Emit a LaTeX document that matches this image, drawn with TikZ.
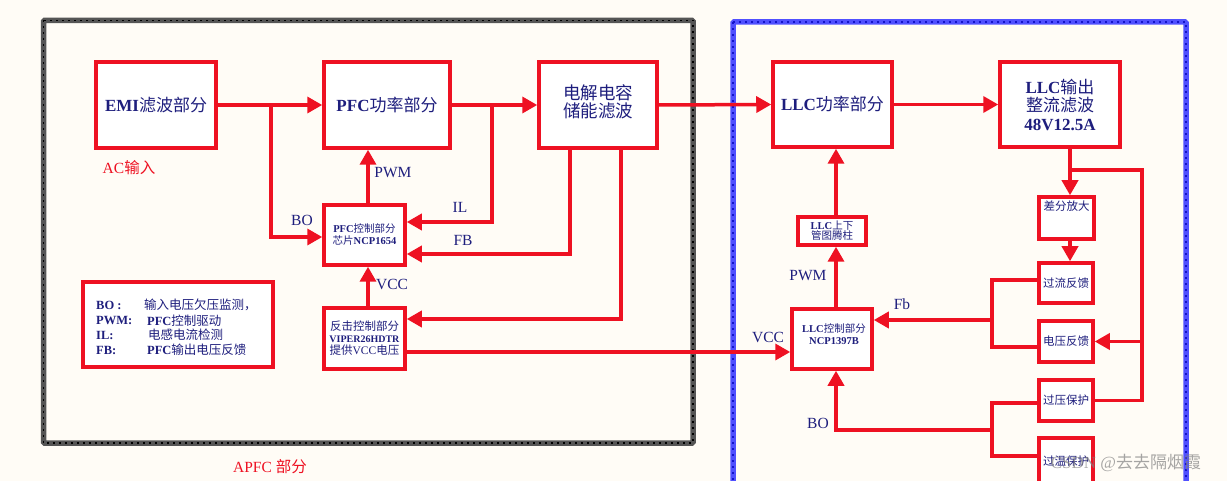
\documentclass[tikz,border=0pt]{standalone}
\usepackage{fontspec}
\setmainfont{Liberation Serif}
\newfontfamily\cjk{Noto Sans CJK SC}
\usetikzlibrary{arrows.meta}
\newcommand\zh[1]{{\cjk #1}}
\definecolor{bg}{RGB}{255,252,246}
\definecolor{rd}{RGB}{238,17,34}
\definecolor{nv}{RGB}{30,30,125}
\definecolor{bl}{RGB}{80,80,255}
\definecolor{dbl}{RGB}{20,20,200}
\definecolor{fr}{RGB}{85,85,85}
\begin{document}
\begin{tikzpicture}[x=1pt,y=-1pt,
  box/.style={draw=rd, line width=3.5pt, fill=white, inner sep=0pt, text=nv, align=center},
  wire/.style={draw=rd, line width=3.5pt},
  arr/.style={wire, -{Triangle[length=15pt,width=16pt]}},
  lab/.style={text=nv, font=\fontsize{15.5}{18}\selectfont, inner sep=0pt},
  big/.style={font=\fontsize{17}{21}\selectfont},
  small/.style={font=\fontsize{10.5}{13}\selectfont},
  mid/.style={font=\fontsize{11.5}{14}\selectfont},
  redlab/.style={text=rd, font=\fontsize{15.5}{18}\selectfont, inner sep=0pt},
]
\useasboundingbox (0,0) rectangle (1227,481);
\fill[bg] (0,0) rectangle (1227,481);

% frames
\draw[fr, line width=5.5pt, rounded corners=1pt] (43.5,20.5) rectangle (693,443);
\draw[black, line width=1.6pt, dash pattern=on 2pt off 4pt] (43.5,20.5) rectangle (693,443);
\draw[bl, line width=5.5pt, rounded corners=1pt] (733,22) rectangle (1186,500);
\draw[dbl, line width=1.6pt, dash pattern=on 2pt off 4pt] (733,22) rectangle (1186,500);

% boxes
\node[box, big, minimum width=120pt, minimum height=86pt] (emi) at (156,105) {\textbf{EMI}\zh{滤波部分}};
\node[box, big, minimum width=126pt, minimum height=86pt] (pfc) at (387,105) {\textbf{PFC}\zh{功率部分}};
\node[box, font=\fontsize{17.5}{21}\selectfont, minimum width=118pt, minimum height=86pt] (dj) at (598,105) {\zh{电解电容}\\[-3pt]\zh{储能滤波}\\[-13pt]{}};
\node[box, small, minimum width=81pt, minimum height=60pt] (pfcc) at (364.5,235) {\textbf{PFC}\zh{控制部分}\\[-1pt]\zh{芯片}\textbf{NCP1654}};
\node[box, mid, minimum width=81pt, minimum height=61pt] (fly) at (364.5,338.5) {\zh{反击控制部分}\\[-2pt]{\fontsize{10}{12}\selectfont\textbf{VIPER26HDTR}}\\[-2pt]\zh{提供}VCC\zh{电压}};
\node[box, minimum width=190pt, minimum height=85pt] (leg) at (178,324.5) {};
\node[box, big, minimum width=119pt, minimum height=85pt] (llc) at (832.5,104.5) {\textbf{LLC}\zh{功率部分}};
\node[box, big, minimum width=120pt, minimum height=85pt] (out) at (1060,104.5) {\textbf{LLC}\zh{输出}\\[-3pt]\zh{整流滤波}\\[-2pt]\textbf{48V12.5A}};
\node[box, small, minimum width=68pt, minimum height=28pt] (tt) at (832,231) {\textbf{LLC}\zh{上下}\\[-3pt]\zh{管图腾柱}};
\node[box, small, minimum width=80pt, minimum height=60pt] (llcc) at (832,339) {};
\node[box, minimum width=55pt, minimum height=42pt] (diff) at (1066.5,218) {};
\node[box, mid, minimum width=54pt, minimum height=40pt] (oc) at (1066,283) {\zh{过流反馈}};
\node[box, mid, minimum width=54pt, minimum height=41pt] (vf) at (1066,341.5) {\zh{电压反馈}};
\node[box, mid, minimum width=54pt, minimum height=41pt] (ov) at (1066,400.5) {\zh{过压保护}};
\node[box, mid, minimum width=54pt, minimum height=46pt] (ot) at (1066,461) {\zh{过温保护}};

% texts inside boxes without centered content
\node[text=nv, small, inner sep=0pt, align=center] (llcct) at (834,334) {\textbf{LLC}\zh{控制部分}\\[-1pt]\textbf{NCP1397B}};
\node[text=nv, mid, inner sep=0pt] (difft) at (1066.5,206) {\zh{差分放大}};

% legend text
\begin{scope}[every node/.style={text=nv, inner sep=0pt, anchor=west, font=\fontsize{12.5}{15}\selectfont}]
\node (l1a) at (96,305) {\textbf{BO :}};
\node (l2a) at (96,321) {\textbf{PWM:}};
\node (l3a) at (96,335) {\textbf{IL:}};
\node (l4a) at (96,350) {\textbf{FB:}};
\node (l1b) at (144,305) {\zh{输入电压欠压监测，}};
\node (l2b) at (147,321) {\textbf{PFC}\zh{控制驱动}};
\node (l3b) at (148,335) {\zh{电感电流检测}};
\node (l4b) at (147,350) {\textbf{PFC}\zh{输出电压反馈}};
\end{scope}

% branch coordinates
\coordinate (b1) at (271,105);
\coordinate (b2) at (492,105);
\coordinate (b3) at (1070,170);
\coordinate (b4) at (992,320);
\coordinate (b5) at (992,430);

% left connectors
\draw[arr] (emi.east) -- (pfc.west);
\draw[wire] (b1) |- (300,237);
\draw[arr] (300,237) -- (pfcc.west |- 0,237);
\draw[arr] (pfc.east) -- (dj.west);
\draw[wire] (b2) |- (440,222);
\draw[arr] (440,222) -- (pfcc.east |- 0,222);
\draw[wire] (dj.south -| 570,0) |- (440,254);
\draw[arr] (440,254) -- (pfcc.east |- 0,254);
\draw[wire] (dj.south -| 621,0) |- (440,319);
\draw[arr] (440,319) -- (fly.east |- 0,319);
\draw[arr] (pfcc.north -| 368,0) -- (pfc.south -| 368,0);
\draw[arr] (fly.north -| 368,0) -- (pfcc.south -| 368,0);
\draw[arr] (fly.east |- 0,352) -- (llcc.west |- 0,352);
\draw[arr] (dj.east) -- (llc.west);

% right connectors
\draw[arr] (llc.east) -- (out.west);
\draw[arr] (tt.north -| 836,0) -- (llc.south -| 836,0);
\draw[arr] (llcc.north -| 836,0) -- (tt.south -| 836,0);
\draw[arr] (out.south -| 1070,0) -- (diff.north -| 1070,0);
\draw[arr] (diff.south -| 1070,0) -- (oc.north -| 1070,0);
\draw[wire] (b3) -| (1142,400.5) -- (ov.east);
\draw[arr] (1142,341.5) -- (vf.east);
\draw[wire, line join=miter] (oc.west |- 0,280) -| (992,347) -- (vf.west |- 0,347);
\draw[arr] (b4) -- (llcc.east |- 0,320);
\draw[wire, line join=miter] (ov.west |- 0,403) -| (992,456) -- (ot.west |- 0,456);
\draw[wire] (b5) -| (836,400);
\draw[arr] (836,400) -- (llcc.south -| 836,0);

% labels
\node[redlab] (acin) at (129,168) {AC\zh{输入}};
\node[redlab] (apfc) at (270,467) {APFC \zh{部分}};
\node[lab] (lbo1) at (302,220) {BO};
\node[lab] (lpwm1) at (393,173) {PWM};
\node[lab] (lil) at (460,207) {IL};
\node[lab] (lfb) at (463,240) {FB};
\node[lab] (lvcc1) at (392,284) {VCC};
\node[lab] (lpwm2) at (808,276) {PWM};
\node[lab] (lfb2) at (902,304) {Fb};
\node[lab] (lvcc2) at (768,337) {VCC};
\node[lab] (lbo2) at (818,423) {BO};

% watermark
\node[text=gray, opacity=0.7, inner sep=0pt, font=\fontsize{17}{20}\selectfont] (wm) at (1126,463) {CSDN @\zh{去去隔烟霞}};
\end{tikzpicture}
\end{document}
